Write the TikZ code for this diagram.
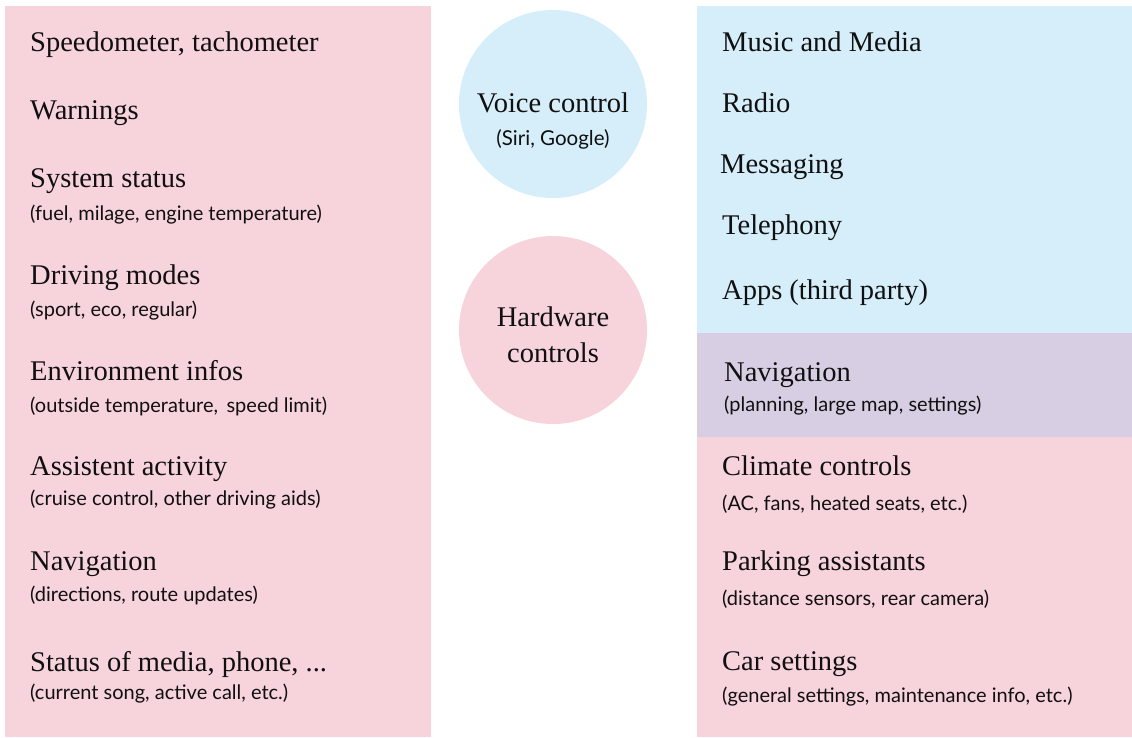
\documentclass[tikz,border=0pt]{standalone}
\usepackage{fontspec}
\setmainfont{Liberation Serif}
\newfontfamily\subfont{Lato}
\definecolor{pinkbg}{HTML}{F7D3DC}
\definecolor{bluebg}{HTML}{D6EEFA}
\definecolor{purplebg}{HTML}{D8CEE3}
\definecolor{txt}{HTML}{101010}
\begin{document}
\begin{tikzpicture}[x=1pt,y=-1pt,
  head/.style={anchor=west,inner sep=0pt,text=txt,font=\fontsize{28.5}{32}\selectfont,yshift=-3pt},
  sub/.style={anchor=west,inner sep=0pt,text=txt,font=\subfont\fontsize{20}{24}\selectfont,yshift=-2pt},
  chead/.style={inner sep=0pt,text=txt,font=\fontsize{28.5}{32}\selectfont},
  csub/.style={inner sep=0pt,text=txt,font=\subfont\fontsize{20.5}{24}\selectfont,yshift=-1pt}]
\useasboundingbox (0,0) rectangle (1132,737);
\fill[white] (0,0) rectangle (1132,737);
% panels
\fill[pinkbg] (5,6) rectangle (431,737);
\fill[bluebg] (697,6) rectangle (1132,333);
\fill[purplebg] (697,333) rectangle (1132,437);
\fill[pinkbg] (697,437) rectangle (1132,737);
% circles
\node[circle,fill=bluebg,minimum size=188pt,inner sep=0pt] (voice) at (553,104) {};
\node[circle,fill=pinkbg,minimum size=188pt,inner sep=0pt] (hw) at (553,330) {};
\node[chead] (voicet) at (553,103) {Voice control};
\node[csub] (voices) at (553,138) {(Siri, Google)};
\node[chead] (hwa) at (553,317) {Hardware};
\node[chead] (hwb) at (553,353) {controls};
% left column
\node[head] (l1) at (30,42) {Speedometer, tachometer};
\node[head] (l2) at (30,110) {Warnings};
\node[head] (l3) at (30,178) {System status};
\node[sub] (l3s) at (30,213) {(fuel, milage, engine temperature)};
\node[head] (l4) at (30,275) {Driving modes};
\node[sub] (l4s) at (30,309) {(sport, eco, regular)};
\node[head] (l5) at (30,368) {Environment infos};
\node[sub] (l5s) at (30,404) {(outside temperature,\, speed limit)};
\node[head] (l6) at (30,466) {Assistent activity};
\node[sub] (l6s) at (30,498) {(cruise control, other driving aids)};
\node[head] (l7) at (30,561) {Navigation};
\node[sub] (l7s) at (30,593) {(directions, route updates)};
\node[head] (l8) at (30,661) {Status of media, phone, ...};
\node[sub] (l8s) at (30,692) {(current song, active call, etc.)};
% right column
\node[head] (r1) at (722,39) {Music and Media};
\node[head] (r2) at (722,100) {Radio};
\node[head] (r3) at (720,164) {Messaging};
\node[head] (r4) at (722,225) {Telephony};
\node[head] (r5) at (722,290) {Apps (third party)};
\node[head] (r6) at (724,372) {Navigation};
\node[sub] (r6s) at (724,404) {(planning, large map, settings)};
\node[head] (r7) at (722,463) {Climate controls};
\node[sub] (r7s) at (722,502) {(AC, fans, heated seats, etc.)};
\node[head] (r8) at (722,561) {Parking assistants};
\node[sub] (r8s) at (722,597) {(distance sensors, rear camera)};
\node[head] (r9) at (722,661) {Car settings};
\node[sub] (r9s) at (722,695) {(general settings, maintenance info, etc.)};
\end{tikzpicture}
\end{document}
